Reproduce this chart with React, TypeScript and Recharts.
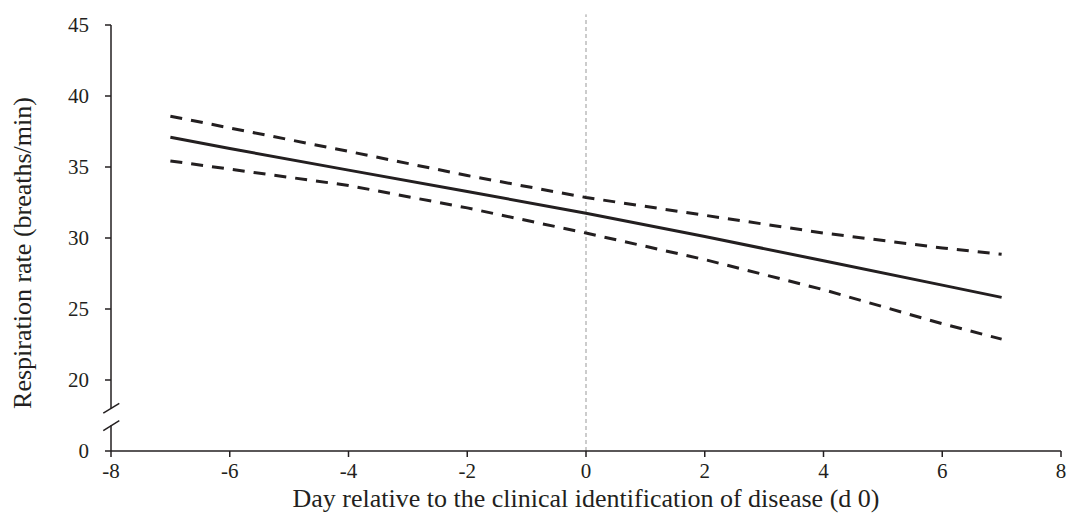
import React from 'react';
import { LineChart, Line, XAxis, YAxis, ReferenceLine } from 'recharts';

// valores (dia relativo ao d 0)
const days = [-7, -6, -4, -2, 0, 2, 4, 6, 7];
const estimate = [37.1, 36.3, 34.78, 33.28, 31.74, 30.1, 28.4, 26.68, 25.82];
const upperCI = [38.58, 37.75, 36.1, 34.4, 32.85, 31.6, 30.35, 29.3, 28.85];
const lowerCI = [35.43, 34.85, 33.7, 32.12, 30.35, 28.48, 26.36, 23.96, 22.88];

const xTicks = [-8, -6, -4, -2, 0, 2, 4, 6, 8];
// 15 on the scale stands for the broken-axis "0"
const yTicks = [15, 20, 25, 30, 35, 40, 45];

const INK = '#231f20';
const FONT = '"Liberation Serif", "Times New Roman", serif';

const data = days.map((d, i) => ({
  day: d,
  est: estimate[i],
  upper: upperCI[i],
  lower: lowerCI[i],
}));

const YLabel = ({ viewBox }: any) => {
  const x = viewBox.x + 22;
  const y = viewBox.y + viewBox.height / 2 + 15;
  return (
    <text x={x} y={y} transform={`rotate(-90, ${x}, ${y})`} textAnchor="middle" dominantBaseline="central"
      fill={INK} fontSize={26} fontFamily={FONT}>
      Respiration rate (breaths/min)
    </text>
  );
};

const XLabel = ({ viewBox }: any) => {
  const x = viewBox.x + viewBox.width / 2;
  const y = viewBox.y + 56;
  return (
    <text x={x} y={y} textAnchor="middle" fill={INK} fontSize={26} fontFamily={FONT}>
      Day relative to the clinical identification of disease (d 0)
    </text>
  );
};

export default function App() {
  const tickStyle = { fill: INK, fontSize: 21, fontFamily: FONT };
  return (
    <div style={{ position: 'absolute', left: 0, top: 0, background: '#fff' }}>
      <LineChart width={1068} height={531} data={data} margin={{ top: 25, right: 7, left: 0, bottom: 20 }}>
        <XAxis
          dataKey="day"
          type="number"
          domain={[-8, 8]}
          ticks={xTicks}
          height={60}
          tickSize={6}
          tickMargin={6}
          tick={tickStyle}
          axisLine={{ stroke: INK, strokeWidth: 1.5 }}
          tickLine={{ stroke: INK, strokeWidth: 1.5 }}
          label={<XLabel />}
        />
        <YAxis
          type="number"
          domain={[15, 45]}
          ticks={yTicks}
          width={111}
          tickSize={6}
          tickMargin={16}
          tick={tickStyle}
          tickFormatter={(v: number) => (v === 15 ? '0' : String(v))}
          axisLine={false}
          tickLine={{ stroke: INK, strokeWidth: 1.5 }}
          label={<YLabel />}
        />
        {/* y axis drawn in two pieces with a break */}
        <ReferenceLine segment={[{ x: -8, y: 45 }, { x: -8, y: 18.0 }]} stroke={INK} strokeWidth={1.5} ifOverflow="visible" />
        <ReferenceLine segment={[{ x: -8, y: 16.8 }, { x: -8, y: 15 }]} stroke={INK} strokeWidth={1.5} ifOverflow="visible" />
        <ReferenceLine segment={[{ x: -8.13, y: 17.66 }, { x: -7.86, y: 18.36 }]} stroke={INK} strokeWidth={1.5} ifOverflow="visible" />
        <ReferenceLine segment={[{ x: -8.13, y: 16.44 }, { x: -7.86, y: 17.14 }]} stroke={INK} strokeWidth={1.5} ifOverflow="visible" />
        {/* d 0 marker */}
        <ReferenceLine segment={[{ x: 0, y: 15 }, { x: 0, y: 45.75 }]} stroke="#999" strokeWidth={1} strokeDasharray="4 3" ifOverflow="visible" />
        <Line type="linear" dataKey="upper" stroke={INK} strokeWidth={3} strokeDasharray="12 9" dot={false} isAnimationActive={false} />
        <Line type="linear" dataKey="lower" stroke={INK} strokeWidth={3} strokeDasharray="12 9" dot={false} isAnimationActive={false} />
        <Line type="linear" dataKey="est" stroke={INK} strokeWidth={3} dot={false} isAnimationActive={false} />
      </LineChart>
    </div>
  );
}
